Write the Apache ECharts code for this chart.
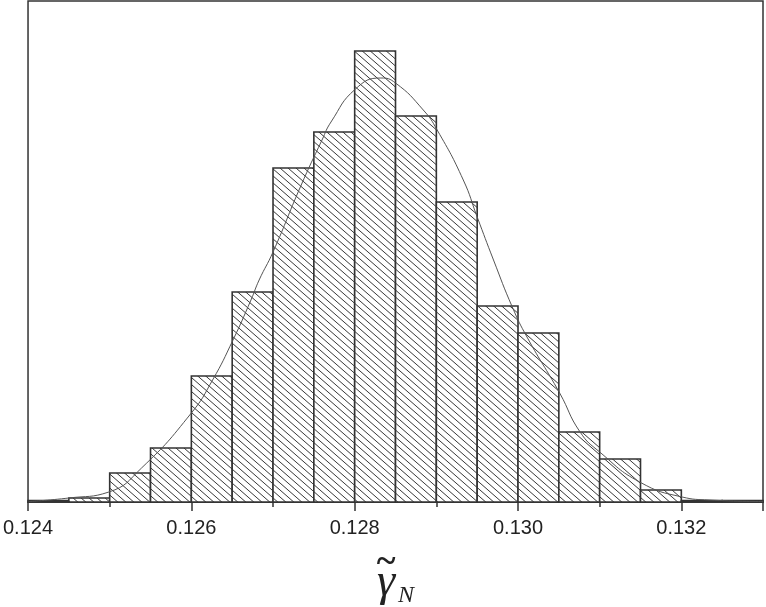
<!DOCTYPE html>
<html>
<head>
<meta charset="UTF-8">
<title>histogram</title>
<script src="https://cdn.jsdelivr.net/npm/echarts@6/dist/echarts.min.js"></script>
<style>
  html, body { margin: 0; padding: 0; background: #fff; }
  #chart { width: 766px; height: 607px; }
</style>
</head>
<body>
<div id="chart"></div>
<script>
// histogram bins (left edge), width 0.0005
const binStart = [0.1240, 0.1245, 0.1250, 0.1255, 0.1260, 0.1265, 0.1270, 0.1275, 0.1280,
                  0.1285, 0.1290, 0.1295, 0.1300, 0.1305, 0.1310, 0.1315, 0.1320, 0.1325];
const binWidth = 0.0005;
const counts = [1.5, 4, 29, 54, 126, 210, 334, 370, 451, 386, 300, 196, 169, 70, 43, 12, 1.5, 1.5];

// fitted curve
const curveX = [0.12401, 0.1245, 0.12499, 0.12539, 0.1260, 0.12626, 0.12651, 0.12673, 0.12683,
                0.1270, 0.12734, 0.1276, 0.12771, 0.12801, 0.12832, 0.1285, 0.12884, 0.12901,
                0.12933, 0.1295, 0.1297, 0.12993, 0.13011, 0.13051, 0.13076, 0.1310, 0.13149,
                0.13201, 0.13234, 0.1330];
const curveY = [0.5, 4, 10, 34, 89, 122, 162, 202, 222,
                250, 316, 362, 380, 413, 424, 419, 392, 372,
                322, 285, 242, 195, 165, 109, 70, 50, 20,
                5, 2, 0.5];

const tickLabels = ['0.124', '0.126', '0.128', '0.130', '0.132'];

// hatch pattern "\\\"
const hatch = document.createElement('canvas');
hatch.width = 8;
hatch.height = 7;
const hc = hatch.getContext('2d');
hc.fillStyle = '#fff';
hc.fillRect(0, 0, 8, 7);
hc.strokeStyle = '#383838';
hc.lineWidth = 1;
for (let k = -1; k <= 1; k++) {
    hc.beginPath();
    hc.moveTo(0, 7 * k);
    hc.lineTo(8, 7 + 7 * k);
    hc.stroke();
}

const chart = echarts.init(document.getElementById('chart'));

const option = {
    animation: false,
    grid: {
        left: 26, right: 1, top: 1, bottom: 105,
        show: true,
        borderColor: '#333',
        borderWidth: 1.5
    },
    xAxis: {
        type: 'value',
        min: 0.124,
        max: 0.133,
        interval: 0.002,
        axisLine: { show: true, onZero: false, lineStyle: { color: '#333', width: 1.5 } },
        axisTick: { show: true, inside: false, length: 9, lineStyle: { color: '#333', width: 1.5 } },
        minorTick: { show: true, splitNumber: 2, length: 5, lineStyle: { color: '#333', width: 1.5 } },
        splitLine: { show: false },
        minorSplitLine: { show: false },
        axisLabel: {
            margin: 16,
            color: '#222',
            fontSize: 20,
            fontFamily: 'Liberation Sans',
            formatter: v => {
                const s = v.toFixed(3);
                return tickLabels.includes(s) ? s : '';
            }
        }
    },
    yAxis: {
        type: 'value',
        min: 0,
        max: 501,
        axisLine: { show: false },
        axisTick: { show: false },
        axisLabel: { show: false },
        splitLine: { show: false }
    },
    series: [
        {
            type: 'custom',
            z: 2,
            data: binStart.map((b, i) => [b, b + binWidth, counts[i]]),
            encode: { x: [0, 1], y: 2 },
            renderItem: (params, api) => {
                const p0 = api.coord([api.value(0), 0]);
                const p1 = api.coord([api.value(1), api.value(2)]);
                return {
                    type: 'rect',
                    shape: { x: p0[0], y: p1[1], width: p1[0] - p0[0], height: p0[1] - p1[1] },
                    style: {
                        fill: { image: hatch, repeat: 'repeat' },
                        stroke: '#333',
                        lineWidth: 1.6
                    }
                };
            }
        },
        {
            type: 'line',
            z: 3,
            smooth: true,
            showSymbol: false,
            data: curveX.map((x, i) => [x, curveY[i]]),
            lineStyle: { color: '#555', width: 1 }
        }
    ],
    graphic: [
        {
            type: 'text',
            style: {
                x: 386, y: 563, text: '~',
                font: 'bold 36px "Liberation Serif"',
                fill: '#222', align: 'center', verticalAlign: 'middle'
            }
        },
        {
            type: 'text',
            style: {
                x: 386, y: 583, text: 'γ',
                font: 'italic 46px "Liberation Serif"',
                fill: '#222', align: 'center', verticalAlign: 'middle'
            }
        },
        {
            type: 'text',
            style: {
                x: 398, y: 596, text: 'N',
                font: 'italic 24px "Liberation Serif"',
                fill: '#222', align: 'left', verticalAlign: 'middle'
            }
        }
    ]
};

chart.setOption(option);
</script>
</body>
</html>
